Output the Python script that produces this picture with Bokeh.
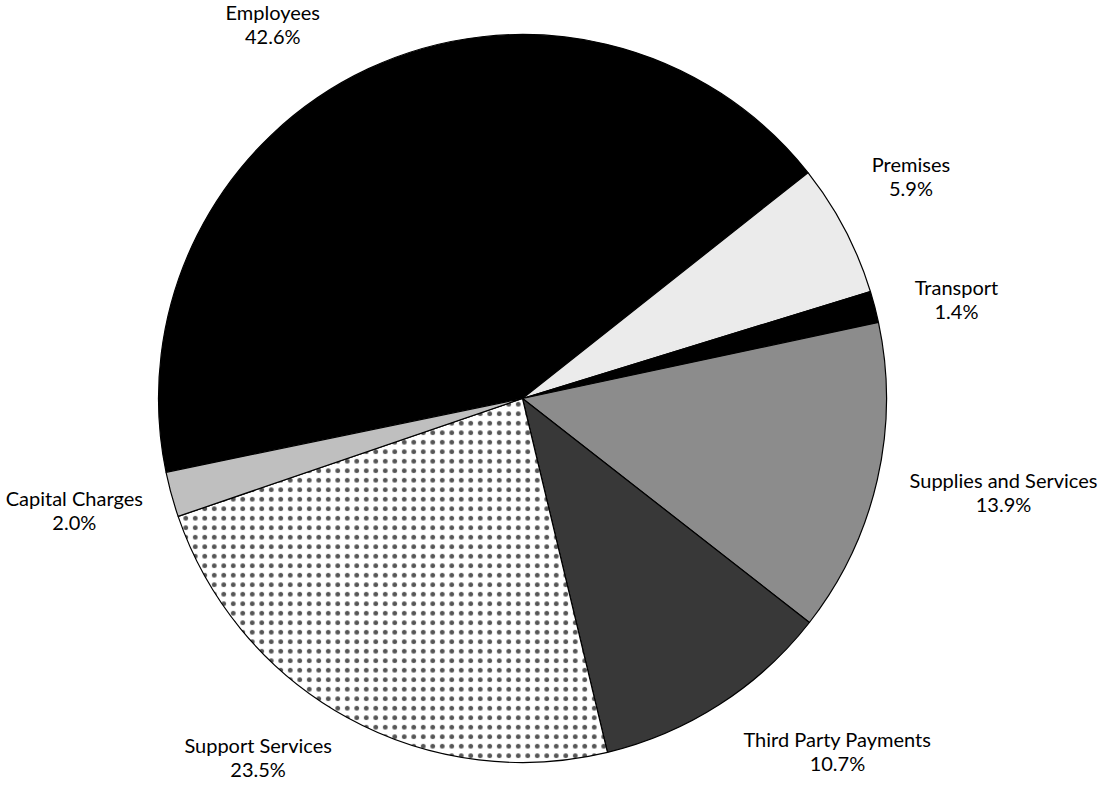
import math
from bokeh.plotting import figure
from bokeh.models import Range1d, ColumnDataSource
from bokeh.core.properties import value
from bokeh.embed import file_html
from bokeh.resources import INLINE

# ---- data ----
categories = ["Employees", "Premises", "Transport", "Supplies and Services",
              "Third Party Payments", "Support Services", "Capital Charges"]
shares = [42.6, 5.9, 1.4, 13.9, 10.7, 23.5, 2.0]

# ---- styles ----
fills = ["#000000", "#ebebeb", "#000000", "#8c8c8c", "#383838", "#ffffff", "#bfbfbf"]
hatches = [" ", " ", " ", " ", " ", "dot", " "]
# label placement (style): angular nudge (deg) and radius factor
label_nudge = [8.7, 2.1, -1.7, 2.0, 9.0, -7.6, -1.3]
label_rfac = [1.236, 1.23, 1.223, 1.346, 1.299, 1.224, 1.269]

W, H = 1104, 785
CX, CY, R = 522, H - 398, 364
START = 191.7  # degrees, first slice start; slices run clockwise

total = sum(shares)
starts, ends, lx, ly = [], [], [], []
a = START
for i, s in enumerate(shares):
    span = s / total * 360.0
    a2 = a - span
    starts.append(math.radians(a2))
    ends.append(math.radians(a))
    mid = (a + a2) / 2 + label_nudge[i]
    lx.append(CX + R * label_rfac[i] * math.cos(math.radians(mid)))
    ly.append(CY + R * label_rfac[i] * math.sin(math.radians(mid)))
    a = a2

src = ColumnDataSource(dict(
    x=[CX] * len(shares), y=[CY] * len(shares),
    start=starts, end=ends, fill=fills, hatch=hatches,
    lx=lx, ly1=[v + 12 for v in ly], ly2=[v - 12 for v in ly],
    name=categories, pct=[f"{s:.1f}%" for s in shares],
))

p = figure(width=W, height=H, output_backend="svg", toolbar_location=None,
           x_range=Range1d(0, W), y_range=Range1d(0, H), min_border=0)
p.axis.visible = False
p.grid.visible = False
p.outline_line_color = None

p.wedge(x="x", y="y", radius=R, radius_units="screen",
        start_angle="start", end_angle="end", source=src,
        fill_color="fill", line_color="black", line_width=1.2,
        hatch_pattern="hatch", hatch_color="#555555", hatch_scale=9.5)

for col in ("ly1", "ly2"):
    p.text(x="lx", y=col, text="name" if col == "ly1" else "pct", source=src,
           text_align="center", text_baseline="middle",
           text_font=value("Lato"), text_font_size="20px", text_color="black")

open("out.html", "w").write(file_html(p, INLINE))
